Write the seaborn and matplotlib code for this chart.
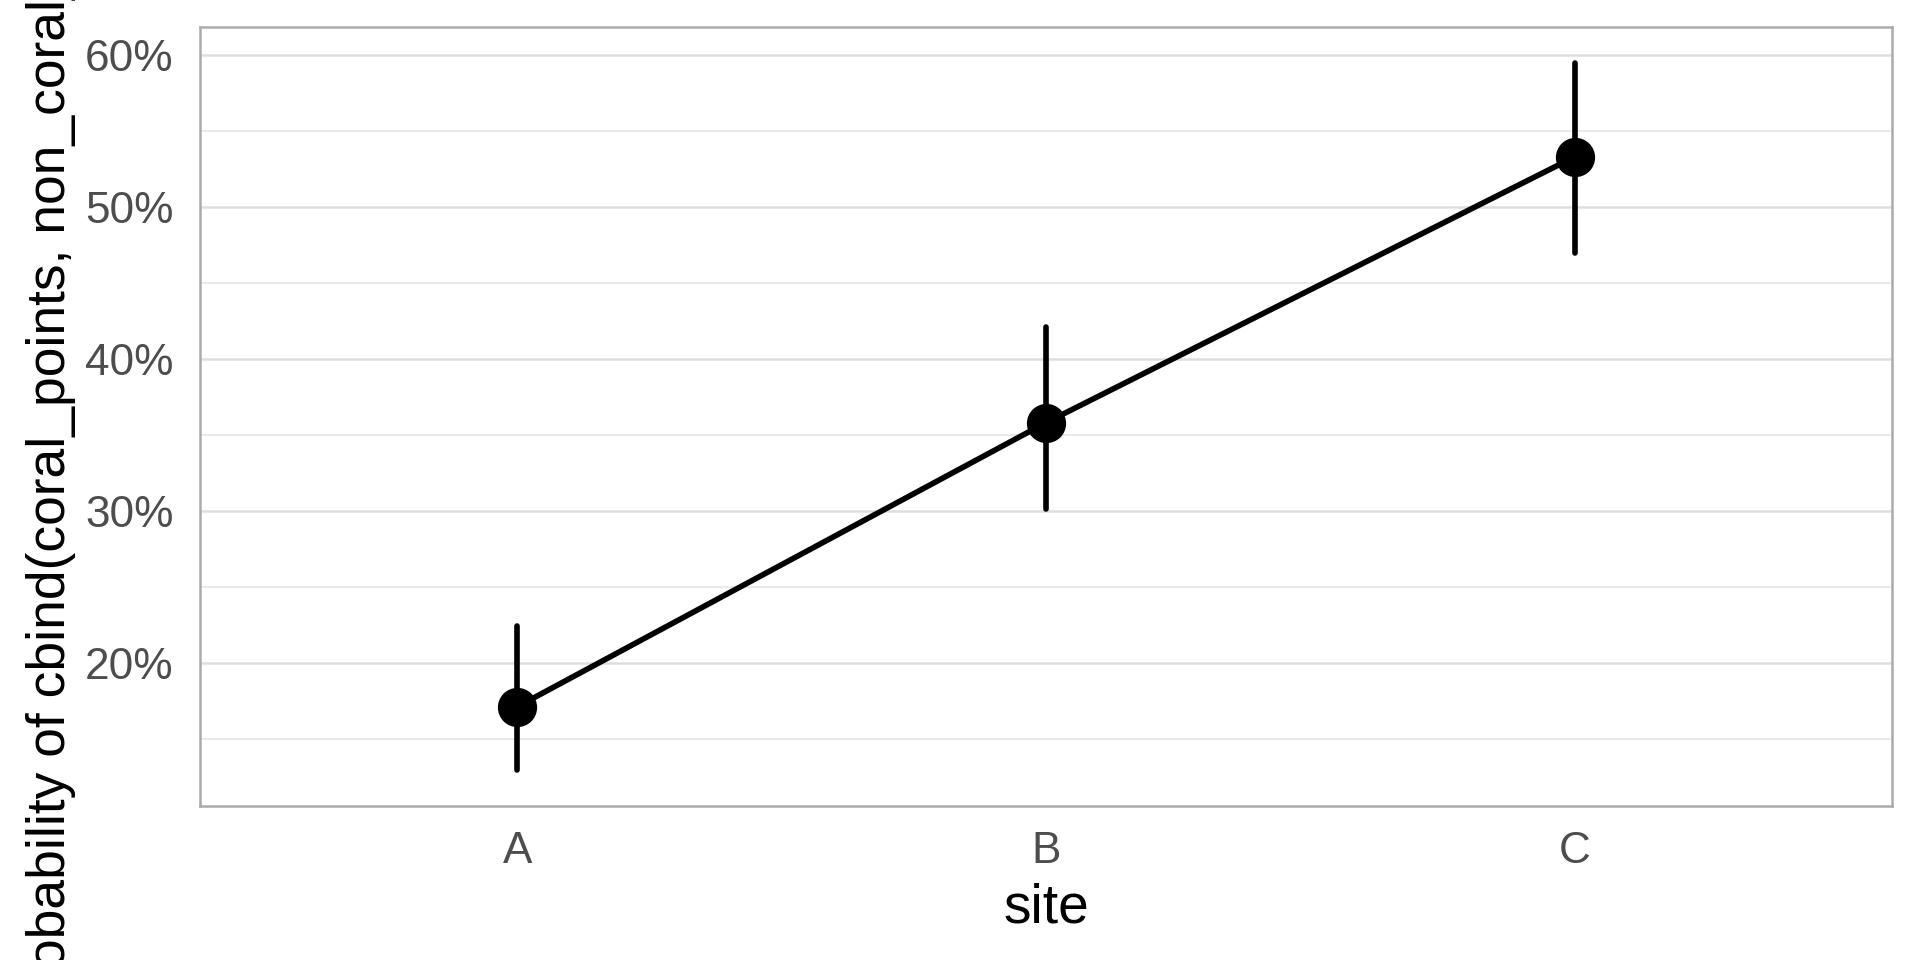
import pandas as pd
import seaborn as sns
import matplotlib.pyplot as plt
import numpy as np
from matplotlib.ticker import PercentFormatter, MultipleLocator

# Predicted probabilities with 95% interval
sites = ["A", "B", "C"]
estimate = [0.171, 0.358, 0.533]
lower = [0.129, 0.301, 0.470]
upper = [0.224, 0.421, 0.595]

# long table: lower / estimate / upper per site, so the median is the
# estimate and the 100% percentile interval spans lower..upper
df = pd.DataFrame({
    "site": sites * 3,
    "value": lower + estimate + upper,
})

sns.set_style("white")
plt.rcParams['font.family'] = ['Liberation Sans', 'DejaVu Sans']

fig = plt.figure(figsize=(6.4, 3.2), dpi=300)
ax = fig.add_axes([0.1042, 0.1604, 0.8812, 0.8115])

# grid first so it sits under the marks
ax.set_axisbelow(True)
ax.grid(which="major", color="#DEDEDE", linewidth=0.6)
ax.grid(which="minor", axis="y", color="#E6E6E6", linewidth=0.4)

sns.pointplot(data=df, x="site", y="value", order=sites,
              estimator="median", errorbar=("pi", 100),
              color="black", markersize=8.4, linewidth=1.35,
              err_kws={"linewidth": 1.35}, ax=ax)

ax.set_xlim(-0.6, 2.6)
ax.set_ylim(0.1056, 0.6185)
ax.yaxis.set_major_locator(MultipleLocator(0.1))
ax.yaxis.set_minor_locator(MultipleLocator(0.05))
ax.yaxis.set_major_formatter(PercentFormatter(xmax=1, decimals=0))

for s in ax.spines.values():
    s.set_visible(True)
    s.set_color("#ABABAB")
    s.set_linewidth(0.6)

ax.tick_params(axis="both", which="major", length=3.2, width=0.6,
               color="#ABABAB", labelsize=10.6, labelcolor="#4D4D4D")
ax.tick_params(axis="y", which="major", pad=3.2)
ax.tick_params(axis="x", which="major", pad=2.8)
ax.tick_params(axis="y", which="minor", length=0)

ax.set_xlabel("site", fontsize=13.2, color="black")
ax.set_ylabel("Predicted probability of cbind(coral_points, non_coral_points)",
              fontsize=12.8, color="black")
ax.xaxis.label.set_va("baseline")
ax.yaxis.label.set_va("baseline")
ax.xaxis.set_label_coords(0.5, -0.150)
ax.yaxis.set_label_coords(-0.0798, 0.3505)

fig.savefig("out.png", dpi=300)
